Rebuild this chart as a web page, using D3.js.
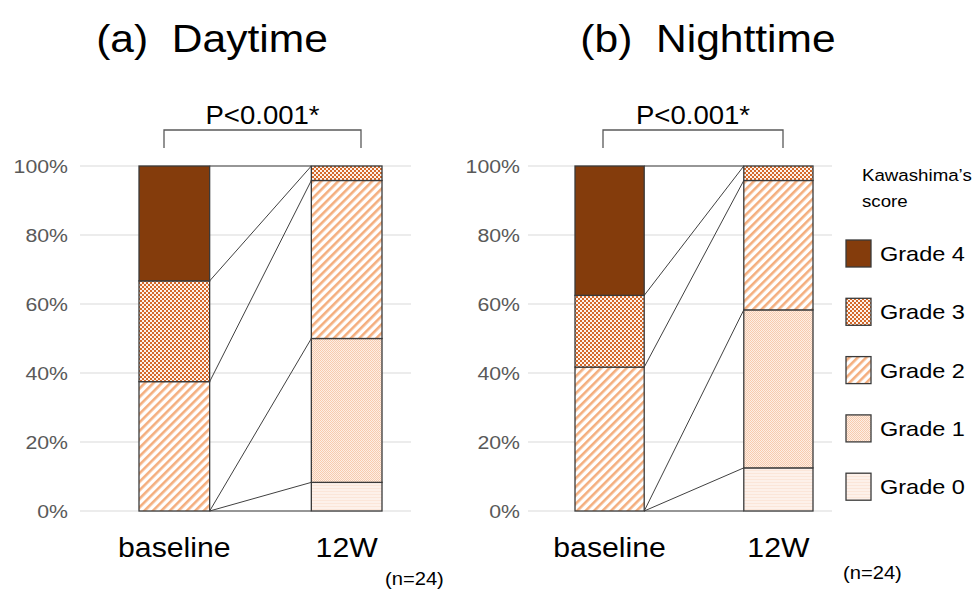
<!DOCTYPE html>
<html><head><meta charset="utf-8">
<script src="https://cdn.jsdelivr.net/npm/d3@7"></script>
<style>body{margin:0;background:#fff}svg{display:block}text{font-family:"Liberation Sans",Arial,sans-serif}</style>
</head><body><svg id="c" width="974" height="593"></svg>
<script>
const grades = ["Grade 0","Grade 1","Grade 2","Grade 3","Grade 4"];
const timepoints = ["baseline","12W"];
const yTicks = [0,20,40,60,80,100];
const daytimeBaseline = [0, 0, 37.5, 29.2, 33.3];
const daytime12W = [8.3, 41.7, 45.8, 4.2, 0];
const nighttimeBaseline = [0, 0, 41.7, 20.8, 37.5];
const nighttime12W = [12.5, 45.8, 37.5, 4.2, 0];
const panelTitles = ["(a)  Daytime", "(b)  Nighttime"];
const pText = "P<0.001*";
const nText = "(n=24)";
const legendTitle = ["Kawashima\u2019s", "score"];

const SX = 1.12;
const svg = d3.select("#c");
const defs = svg.append("defs");

const p0 = defs.append("pattern").attr("id","g0").attr("patternUnits","userSpaceOnUse").attr("width",4).attr("height",3);
p0.append("rect").attr("width",4).attr("height",3).attr("fill","#FDF1EA");
p0.append("rect").attr("y",2).attr("width",4).attr("height",1).attr("fill","#FBE6D9");
const p1 = defs.append("pattern").attr("id","g1").attr("patternUnits","userSpaceOnUse").attr("width",2).attr("height",2);
p1.append("rect").attr("width",2).attr("height",2).attr("fill","#FDEEE4");
p1.append("rect").attr("width",1).attr("height",1).attr("fill","#F7CBAE");
p1.append("rect").attr("x",1).attr("y",1).attr("width",1).attr("height",1).attr("fill","#F7CBAE");
const p2 = defs.append("pattern").attr("id","g2").attr("patternUnits","userSpaceOnUse").attr("width",6).attr("height",6).attr("patternTransform","rotate(45)");
p2.append("rect").attr("width",6).attr("height",6).attr("fill","#fff");
p2.append("rect").attr("width",2.6).attr("height",6).attr("fill","#F4AE7E");
const p3 = defs.append("pattern").attr("id","g3").attr("patternUnits","userSpaceOnUse").attr("width",4).attr("height",4);
p3.append("rect").attr("width",4).attr("height",4).attr("fill","#FDF3EC");
p3.append("rect").attr("width",2).attr("height",2).attr("fill","#D4692A");
p3.append("rect").attr("x",2).attr("y",2).attr("width",2).attr("height",2).attr("fill","#D4692A");
const fills = ["url(#g0)","url(#g1)","url(#g2)","url(#g3)","#843C0C"];

function txt(g, x, y, s, size, anchor, color, sx) {
  return g.append("text")
    .attr("transform", `translate(${x},${y}) scale(${sx || SX},1)`)
    .attr("font-size", size)
    .attr("text-anchor", anchor || "start")
    .attr("fill", color || "#000")
    .attr("xml:space","preserve")
    .text(s);
}

const y = d3.scaleLinear().domain([0,100]).range([511,166]);

const panels = [
  {title: panelTitles[0], titleX: 212, data: [daytimeBaseline, daytime12W], bars: [139,382], grid: [80,411], axisX: 68, bracket: [164,361], nPos: [385,585]},
  {title: panelTitles[1], titleX: 708, data: [nighttimeBaseline, nighttime12W], bars: [575,813], grid: [528,832], axisX: 520, bracket: [603,783], nPos: [843,579]}
];

panels.forEach(p => {
  const g = svg.append("g");
  const x = d3.scaleBand().domain(timepoints).range(p.bars).paddingInner(0.59).paddingOuter(0);
  g.selectAll(".grid").data(yTicks).join("line")
    .attr("x1", p.grid[0]).attr("x2", p.grid[1])
    .attr("y1", d => y(d)).attr("y2", d => y(d))
    .attr("stroke", "#D9D9D9").attr("stroke-width", 1);
  yTicks.forEach(t => txt(g, p.axisX, y(t) + 7, t + "%", 19, "end", "#595959"));
  const stacks = p.data.map(arr => [0, ...d3.cumsum(arr)]);
  const bw = x.bandwidth();
  for (let k = 0; k <= grades.length; k++) {
    g.append("line")
      .attr("x1", x(timepoints[0]) + bw).attr("y1", y(Math.min(100, stacks[0][k])))
      .attr("x2", x(timepoints[1])).attr("y2", y(Math.min(100, stacks[1][k])))
      .attr("stroke", "#404040").attr("stroke-width", 1);
  }
  timepoints.forEach((tp, i) => {
    const cum = stacks[i];
    p.data[i].forEach((v, j) => {
      if (v <= 0) return;
      const top = Math.min(100, cum[j+1]);
      g.append("rect")
        .attr("x", x(tp)).attr("width", bw)
        .attr("y", y(top)).attr("height", y(cum[j]) - y(top))
        .attr("fill", fills[j]).attr("stroke", "#3A3A3A").attr("stroke-width", 1.3);
    });
    txt(g, x(tp) + bw/2, 557, tp, 27, "middle");
  });
  txt(g, p.titleX, 52, p.title, 38, "middle");
  const by = 130, bb = 148;
  g.append("path").attr("d", `M${p.bracket[0]},${bb}V${by}H${p.bracket[1]}V${bb}`)
    .attr("fill","none").attr("stroke","#595959").attr("stroke-width",1.3);
  txt(g, (p.bracket[0]+p.bracket[1])/2, 124, pText, 26, "middle", "#000", 1.06);
  txt(g, p.nPos[0], p.nPos[1], nText, 18, "start");
});

const lg = svg.append("g");
txt(lg, 862, 181, legendTitle[0], 17, "start", "#000", 1.1);
txt(lg, 862, 207, legendTitle[1], 17, "start", "#000", 1.1);
const order = [4,3,2,1,0];
order.forEach((gi, i) => {
  const cy = 253 + i * 58.3;
  lg.append("rect").attr("x", 846).attr("y", cy - 13).attr("width", 25).attr("height", 27)
    .attr("fill", fills[gi]).attr("stroke", "#3A3A3A").attr("stroke-width", 1.3);
  txt(lg, 880, cy + 8, grades[gi], 21, "start");
});
</script></body></html>
